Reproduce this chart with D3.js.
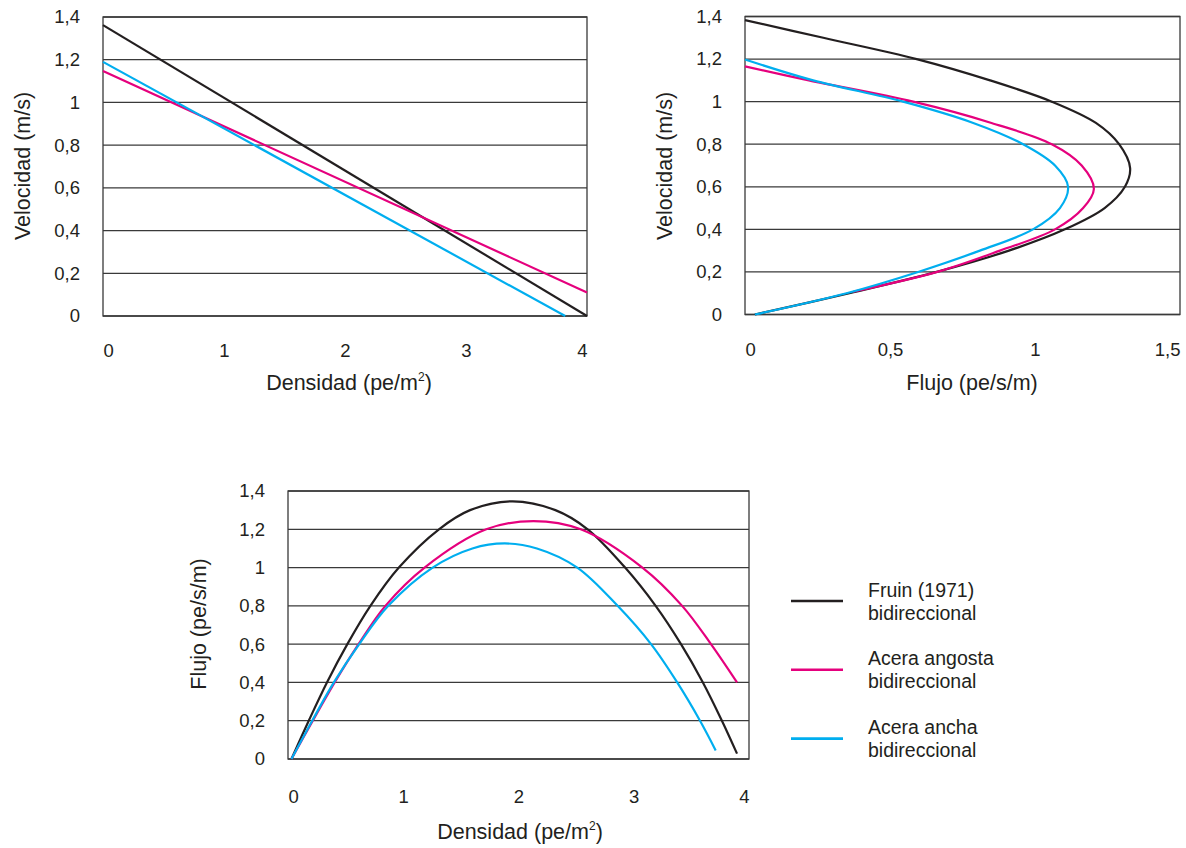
<!DOCTYPE html>
<html>
<head>
<meta charset="utf-8">
<script src="https://cdn.jsdelivr.net/npm/d3@7"></script>
<style>
	body { margin: 0; background: #fff; }
	svg text { font-family: "Liberation Sans", Arial, sans-serif; fill: #231f20; }
</style>
</head>
<body>
<svg id="chart" width="1186" height="848"></svg>
<script>
// velocidad (m/s) frente a densidad (pe/m2) - rectas
var vkFruin = [[0, 1.362], [4, 0]];
var vkAngosta = [[0, 1.147], [4, 0.11]];
var vkAncha = [[0, 1.19], [3.82, 0]];

// flujo (pe/s/m) frente a velocidad (m/s), pares [flujo, velocidad]
var qvFruin = [[0, 1.383], [0.27, 1.3], [0.592, 1.2], [0.845, 1.1], [1.058, 1.0], [1.21, 0.9], [1.29, 0.8],
	[1.328, 0.688], [1.31, 0.6], [1.24, 0.5], [1.103, 0.4], [0.91, 0.3], [0.661, 0.2], [0.36, 0.1], [0.034, 0]];
var qvAngosta = [[0, 1.166], [0.22, 1.1], [0.58, 1.0], [0.85, 0.9], [1.058, 0.8], [1.161, 0.7], [1.203, 0.59],
	[1.166, 0.5], [1.069, 0.4], [0.879, 0.3], [0.663, 0.2], [0.373, 0.107]];
var qvAncha = [[0, 1.198], [0.235, 1.1], [0.545, 1.0], [0.787, 0.9], [0.959, 0.8], [1.069, 0.7], [1.114, 0.6],
	[1.086, 0.5], [0.993, 0.4], [0.81, 0.3], [0.597, 0.2], [0.35, 0.1], [0.034, 0]];

// flujo (pe/s/m) frente a densidad (pe/m2)
var kqFruin = [[0.03, 0], [0.18, 0.2], [0.338, 0.4], [0.515, 0.6], [0.715, 0.8], [0.962, 1.0], [1.31, 1.2],
	[1.58, 1.3], [1.95, 1.346], [2.32, 1.3], [2.6, 1.2], [2.925, 1.0], [3.19, 0.8], [3.41, 0.6],
	[3.6, 0.4], [3.765, 0.2], [3.896, 0.028]];
var kqAngosta = [[0.03, 0], [0.215, 0.2], [0.405, 0.4], [0.612, 0.6], [0.845, 0.8], [1.185, 1.0], [1.72, 1.2],
	[2.13, 1.243], [2.54, 1.2], [3.075, 1.0], [3.42, 0.8], [3.67, 0.6], [3.896, 0.4]];
var kqAncha = [[0.03, 0], [0.21, 0.2], [0.398, 0.4], [0.618, 0.6], [0.87, 0.8], [1.255, 1.0], [1.6, 1.1],
	[1.88, 1.126], [2.16, 1.1], [2.51, 1.0], [2.86, 0.8], [3.15, 0.6], [3.377, 0.4], [3.575, 0.2], [3.711, 0.045]];

var densityTicks = [0, 1, 2, 3, 4];
var flowTicks = [0, 0.5, 1, 1.5];
var gridTicks = [0, 0.2, 0.4, 0.6, 0.8, 1, 1.2, 1.4];

var legendLabels = [["Fruin (1971)", "bidireccional"], ["Acera angosta", "bidireccional"], ["Acera ancha", "bidireccional"]];
var colors = ["#231f20", "#e5007d", "#00aeef"];

var locale = d3.formatLocale({ decimal: ",", thousands: ".", grouping: [3], currency: ["", ""] });
var fmt = locale.format(".1~f");

var svg = d3.select("#chart");

function drawPanel(o) {
	var g = svg.append("g"),
		x = d3.scaleLinear().domain(o.xDomain).range([o.left, o.right]),
		y = d3.scaleLinear().domain([0, 1.4]).range([o.bottom, o.top]);

	g.selectAll("line.grid")
		.data(gridTicks)
		.enter().append("line")
		.attr("x1", o.left).attr("x2", o.right)
		.attr("y1", function(d) { return y(d); })
		.attr("y2", function(d) { return y(d); })
		.attr("stroke", "#3a3a3a")
		.attr("stroke-width", 1.3);

	g.append("rect")
		.attr("x", o.left).attr("y", o.top)
		.attr("width", o.right - o.left).attr("height", o.bottom - o.top)
		.attr("fill", "none")
		.attr("stroke", "#3a3a3a")
		.attr("stroke-width", 1.3);

	var yAxis = g.append("g")
		.attr("transform", "translate(" + o.left + ",0)")
		.call(d3.axisLeft(y).tickValues(gridTicks).tickSize(0).tickPadding(23).tickFormat(fmt));
	var xAxis = g.append("g")
		.attr("transform", "translate(0," + o.bottom + ")")
		.call(d3.axisBottom(x).tickValues(o.xTicks).tickSize(0).tickPadding(o.xPad).tickFormat(fmt));
	[yAxis, xAxis].forEach(function(a) {
		a.select(".domain").remove();
		a.selectAll("text").style("font-size", "18.5px").attr("fill", "#231f20");
	});
	// first and last labels sit inside the frame edges
	var n = o.xTicks.length;
	xAxis.selectAll("text")
		.attr("text-anchor", function(d, i) { return i === 0 ? "start" : (i === n - 1 ? "end" : "middle"); });

	var line = d3.line()
		.x(function(d) { return x(d[0]); })
		.y(function(d) { return y(d[1]); })
		.curve(o.curve);

	o.series.forEach(function(s, i) {
		g.append("path")
			.attr("d", line(s))
			.attr("fill", "none")
			.attr("stroke", colors[i])
			.attr("stroke-width", 2.2)
			.attr("stroke-linejoin", "round");
	});

	var xt = g.append("text")
		.attr("x", o.xTitleX)
		.attr("y", o.xTitleY)
		.attr("text-anchor", "middle")
		.style("font-size", "21.5px")
		.text(o.xTitle);
	if (o.xSup) {
		xt.append("tspan").attr("dy", -9).style("font-size", "12px").text(o.xSup);
		xt.append("tspan").attr("dy", 9).text(")");
	}

	g.append("text")
		.attr("transform", "translate(" + o.yTitleX + "," + o.yTitleY + ") rotate(-90)")
		.attr("text-anchor", "middle")
		.style("font-size", "21.5px")
		.text(o.yTitle);
}

drawPanel({
	left: 103, right: 587, top: 17, bottom: 316,
	xDomain: [0, 4], xTicks: densityTicks, xPad: 28,
	series: [vkFruin, vkAngosta, vkAncha], curve: d3.curveLinear,
	xTitle: "Densidad (pe/m", xSup: "2", xTitleX: 349, xTitleY: 390,
	yTitle: "Velocidad (m/s)", yTitleX: 30, yTitleY: 166
});

drawPanel({
	left: 745, right: 1180, top: 16.5, bottom: 314.5,
	xDomain: [0, 1.5], xTicks: flowTicks, xPad: 28,
	series: [qvFruin, qvAngosta, qvAncha], curve: d3.curveCatmullRom,
	xTitle: "Flujo (pe/s/m)", xTitleX: 972, xTitleY: 390,
	yTitle: "Velocidad (m/s)", yTitleX: 672, yTitleY: 166
});

drawPanel({
	left: 288, right: 749, top: 491, bottom: 759,
	xDomain: [0, 4], xTicks: densityTicks, xPad: 31,
	series: [kqFruin, kqAngosta, kqAncha], curve: d3.curveCatmullRom,
	xTitle: "Densidad (pe/m", xSup: "2", xTitleX: 520, xTitleY: 839,
	yTitle: "Flujo (pe/s/m)", yTitleX: 206, yTitleY: 624
});

// leyenda
var legend = svg.append("g").attr("transform", "translate(791,601)");
var item = legend.selectAll("g")
	.data(legendLabels)
	.enter().append("g")
	.attr("transform", function(d, i) { return "translate(0," + (i * 68.8) + ")"; });
item.append("line")
	.attr("x1", 0).attr("x2", 52)
	.attr("stroke", function(d, i) { return colors[i]; })
	.attr("stroke-width", 2.6);
item.append("text")
	.attr("x", 77)
	.attr("y", -4.5)
	.style("font-size", "19.5px")
	.text(function(d) { return d[0]; });
item.append("text")
	.attr("x", 77)
	.attr("y", 18.5)
	.style("font-size", "19.5px")
	.text(function(d) { return d[1]; });
</script>
</body>
</html>
